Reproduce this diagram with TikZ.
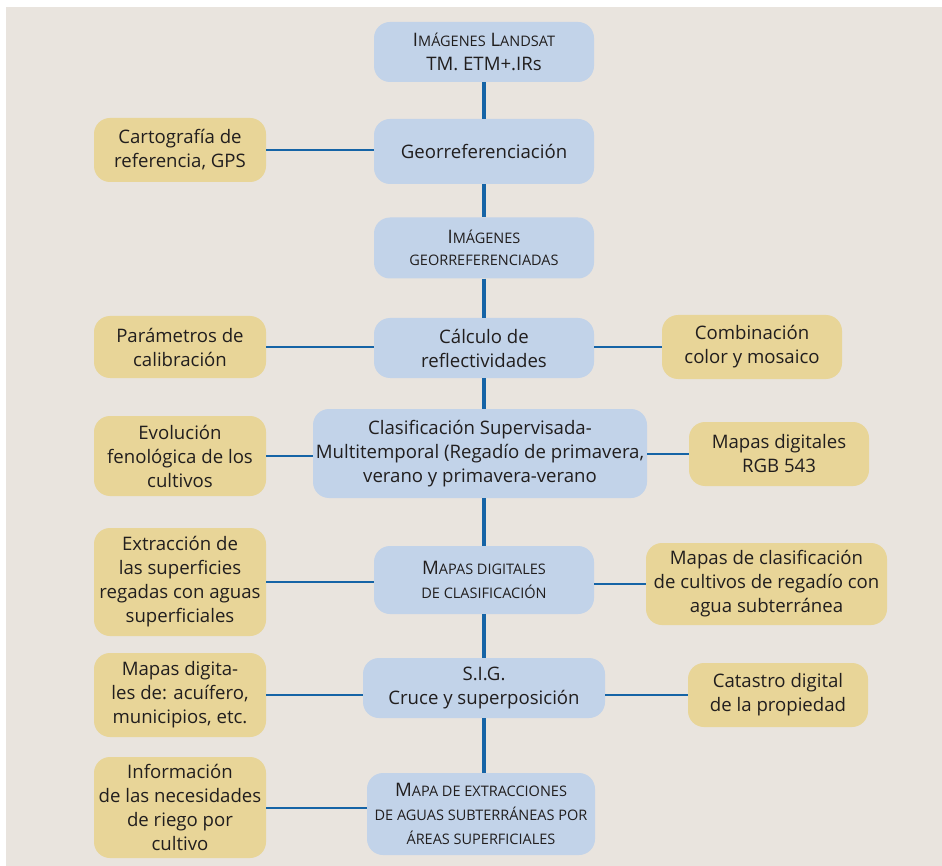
\documentclass[tikz,border=0pt]{standalone}
\usepackage{fontspec}
\setmainfont{Open Sans}
\usetikzlibrary{positioning}
\definecolor{pagebeige}{RGB}{233, 228, 222}
\definecolor{boxblue}{RGB}{194, 211, 233}
\definecolor{boxtan}{RGB}{232, 213, 152}
\definecolor{linkblue}{RGB}{22, 100, 166}
\definecolor{inkgrey}{RGB}{33, 30, 30}
\newcommand\capsmall[1]{{\fontsize{14.5}{17}\selectfont\MakeUppercase{#1}}}

\begin{document}
\begin{tikzpicture}[
  x=1pt, y=-1pt,
  every node/.style={font=\fontsize{18.6}{24}\selectfont, text=inkgrey},
  stage/.style={fill=boxblue, rounded corners=16pt, align=center, inner sep=1pt},
  source/.style={fill=boxtan, rounded corners=16pt, align=center, inner sep=1pt,
                 minimum width=172pt},
  trunk/.style={draw=linkblue, line width=4.5pt},
  branch/.style={draw=linkblue, line width=2pt}
]
  % background
  \fill[white] (0,0) rectangle (942,866);
  \fill[pagebeige] (6,7) rectangle (942,866);

  % central column
  \node[stage, minimum width=220pt, minimum height=60pt] (landsat) at (484,52)
    {I\capsmall{mágenes} L\capsmall{andsat}\\TM. ETM+.IRs};
  \node[stage, minimum width=220pt, minimum height=65pt] (georef) at (484,151.5)
    {Georreferenciación};
  \node[stage, minimum width=220pt, minimum height=61pt] (imgeo) at (484,248)
    {I\capsmall{mágenes}\\[-2pt]\capsmall{georreferenciadas}};
  \node[stage, minimum width=220pt, minimum height=60pt] (reflect) at (484,348)
    {Cálculo de\\reflectividades};
  \node[stage, minimum width=334pt, minimum height=89pt] (clasif) at (480,453.5)
    {Clasificación Supervisada-\\Multitemporal (Regadío de primavera,\\verano y primavera-verano};
  \node[stage, minimum width=220pt, minimum height=68pt] (mapclas) at (484,580)
    {M\capsmall{apas digitales}\\\capsmall{de clasificación}};
  \node[stage, minimum width=242pt, minimum height=60pt] (sig) at (484,688)
    {S.I.G.\\Cruce y superposición};
  \node[stage, minimum width=228pt, minimum height=82pt] (extract) at (481,814)
    {M\capsmall{apa de extracciones}\\\capsmall{de aguas subterráneas por}\\\capsmall{áreas superficiales}};

  % left inputs
  \node[source, minimum height=64pt] (carto) at (180,150)
    {Cartografía de\\referencia, GPS};
  \node[source, minimum height=62pt] (calib) at (180,347)
    {Parámetros de\\calibración};
  \node[source, minimum height=80pt] (fenol) at (180,456)
    {Evolución\\fenológica de los\\cultivos};
  \node[source, minimum height=108pt] (surface) at (180,582)
    {Extracción de\\las superficies\\regadas con aguas\\superficiales};
  \node[source, minimum height=84pt] (layers) at (180,695)
    {Mapas digita-\\les de: acuífero,\\municipios, etc.};
  \node[source, minimum height=101pt] (needs) at (180,807.5)
    {Información\\de las necesidades\\de riego por\\cultivo};

  % right outputs
  \node[source, minimum width=180pt, minimum height=64pt] (mosaic) at (752,347)
    {Combinación\\color y mosaico};
  \node[source, minimum width=180pt, minimum height=64pt] (rgb) at (779,454)
    {Mapas digitales\\RGB 543};
  \node[source, minimum width=241pt, minimum height=82pt] (groundw) at (766.5,584)
    {Mapas de clasificación\\de cultivos de regadío con\\agua subterránea};
  \node[source, minimum width=180pt, minimum height=64pt] (cadastre) at (778,695)
    {Catastro digital\\de la propiedad};

  % trunk
  \foreach \a/\b in {landsat/georef, georef/imgeo, imgeo/reflect, reflect/clasif,
                     clasif/mapclas, mapclas/sig, sig/extract}
    \draw[trunk] (landsat.south |- \a.south) -- (landsat.south |- \b.north);

  % branches
  \foreach \s/\t in {carto/georef, calib/reflect, fenol/clasif, surface/mapclas,
                     layers/sig, needs/extract}
    \draw[branch] (\s.east) -- (\s.east -| \t.west);
  \foreach \s/\t in {mosaic/reflect, rgb/clasif, groundw/mapclas, cadastre/sig}
    \draw[branch] (\s.west) -- (\s.west -| \t.east);
\end{tikzpicture}
\end{document}
